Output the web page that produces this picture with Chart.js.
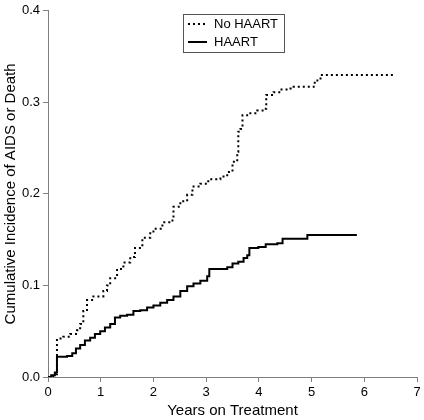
<!DOCTYPE html>
<html>
<head>
<meta charset="utf-8">
<script src="https://cdn.jsdelivr.net/npm/chart.js@4.4.1/dist/chart.umd.min.js"></script>
<style>
html,body{margin:0;padding:0;background:#fff;}
#wrap{width:424px;height:420px;position:relative;}
</style>
</head>
<body>
<div id="wrap"><canvas id="c" width="424" height="420"></canvas></div>
<script>
// Data (years on treatment, cumulative incidence)
const noHaartYears = [0, 0.10, 0.17, 0.29, 0.42, 0.55, 0.61, 0.67, 0.74, 0.86, 1.05, 1.12, 1.18, 1.31, 1.43, 1.56, 1.65, 1.79, 1.94, 2.00, 2.17, 2.32, 2.38, 2.51, 2.64, 2.74, 2.89, 3.04, 3.27, 3.40, 3.50, 3.59, 3.61, 3.65, 3.69, 3.80, 3.97, 4.09, 4.14, 4.28, 4.41, 4.60, 4.66, 5.04, 5.06, 5.17, 6.56];
const noHaartInc = [0, 0.003, 0.042, 0.044, 0.047, 0.051, 0.058, 0.072, 0.084, 0.088, 0.094, 0.100, 0.108, 0.118, 0.125, 0.131, 0.141, 0.152, 0.157, 0.162, 0.169, 0.171, 0.186, 0.192, 0.199, 0.208, 0.211, 0.216, 0.219, 0.224, 0.235, 0.246, 0.268, 0.271, 0.286, 0.288, 0.291, 0.293, 0.308, 0.311, 0.314, 0.315, 0.317, 0.320, 0.324, 0.330, 0.330];
const haartYears = [0, 0.06, 0.13, 0.17, 0.36, 0.46, 0.53, 0.61, 0.70, 0.80, 0.89, 0.99, 1.08, 1.18, 1.27, 1.37, 1.50, 1.62, 1.75, 1.88, 2.00, 2.13, 2.26, 2.38, 2.51, 2.64, 2.76, 2.89, 3.02, 3.06, 3.40, 3.50, 3.61, 3.71, 3.78, 3.82, 3.99, 4.13, 4.35, 4.45, 4.92, 5.86];
const haartInc = [0, 0.002, 0.005, 0.022, 0.023, 0.026, 0.031, 0.035, 0.040, 0.043, 0.047, 0.050, 0.054, 0.058, 0.065, 0.067, 0.068, 0.072, 0.073, 0.076, 0.078, 0.081, 0.084, 0.088, 0.094, 0.099, 0.102, 0.105, 0.110, 0.118, 0.120, 0.124, 0.126, 0.130, 0.133, 0.141, 0.142, 0.145, 0.146, 0.151, 0.155, 0.155];
const seriesNames = ["No HAART", "HAART"];
const xTicks = [0, 1, 2, 3, 4, 5, 6, 7];
const yTicks = [0.0, 0.1, 0.2, 0.3, 0.4];
const xTitle = "Years on Treatment";
const yTitle = "Cumulative Incidence of AIDS or Death";

const toPts = (xs, ys) => xs.map((x, i) => ({x: x, y: ys[i]}));
const FONT = "'Liberation Sans', Arial, sans-serif";
const AXIS = "#808080";

const boxLegend = {
  id: 'boxLegend',
  afterDraw(chart) {
    const ctx = chart.ctx;
    const bx = 183.5, by = 14.5, bw = 101, bh = 38;
    ctx.save();
    ctx.strokeStyle = '#555';
    ctx.lineWidth = 1;
    ctx.setLineDash([]);
    ctx.strokeRect(bx, by, bw, bh);
    ctx.font = '13px ' + FONT;
    ctx.fillStyle = '#000';
    ctx.textBaseline = 'middle';
    ctx.textAlign = 'left';
    chart.data.datasets.forEach((ds, i) => {
      const y = 24 + i * 18;
      ctx.strokeStyle = ds.borderColor;
      ctx.lineWidth = ds.borderWidth;
      ctx.setLineDash(ds.borderDash || []);
      ctx.beginPath();
      ctx.moveTo(188, y);
      ctx.lineTo(207, y);
      ctx.stroke();
      ctx.setLineDash([]);
      ctx.fillText(ds.label, 214, y);
    });
    ctx.restore();
  }
};

new Chart(document.getElementById('c'), {
  type: 'line',
  data: {
    datasets: [
      { label: seriesNames[0], data: toPts(noHaartYears, noHaartInc), borderColor: '#000', borderWidth: 2, borderDash: [2, 3], pointRadius: 0, stepped: true, fill: false },
      { label: seriesNames[1], data: toPts(haartYears, haartInc), borderColor: '#000', borderWidth: 2, pointRadius: 0, stepped: true, fill: false }
    ]
  },
  options: {
    responsive: false,
    animation: false,
    layout: { padding: { top: 8, right: 7, left: 0, bottom: 0 } },
    plugins: { legend: { display: false }, tooltip: { enabled: false } },
    scales: {
      x: {
        type: 'linear', min: 0, max: 7,
        afterBuildTicks: s => { s.ticks = xTicks.map(v => ({value: v})); },
        afterFit: s => { s.height = 43; },
        grid: { display: true, drawOnChartArea: false, drawTicks: true, tickLength: 5, color: AXIS },
        border: { display: true, color: AXIS, width: 1 },
        ticks: { color: '#000', font: { family: FONT, size: 13 }, padding: 3, maxRotation: 0 },
        title: { display: true, text: xTitle, color: '#000', font: { family: FONT, size: 15 }, padding: { top: 0, bottom: 0 } }
      },
      y: {
        type: 'linear', min: 0, max: 0.4,
        afterBuildTicks: s => { s.ticks = yTicks.map(v => ({value: v})); },
        afterFit: s => { s.width = 48; },
        grid: { display: true, drawOnChartArea: false, drawTicks: true, tickLength: 5, color: AXIS },
        border: { display: true, color: AXIS, width: 1 },
        ticks: { color: '#000', font: { family: FONT, size: 13 }, padding: 3, callback: v => v.toFixed(1) },
        title: { display: true, text: yTitle, color: '#000', font: { family: FONT, size: 15 }, padding: { top: 2, bottom: 0 } }
      }
    }
  },
  plugins: [boxLegend]
});
</script>
</body>
</html>
